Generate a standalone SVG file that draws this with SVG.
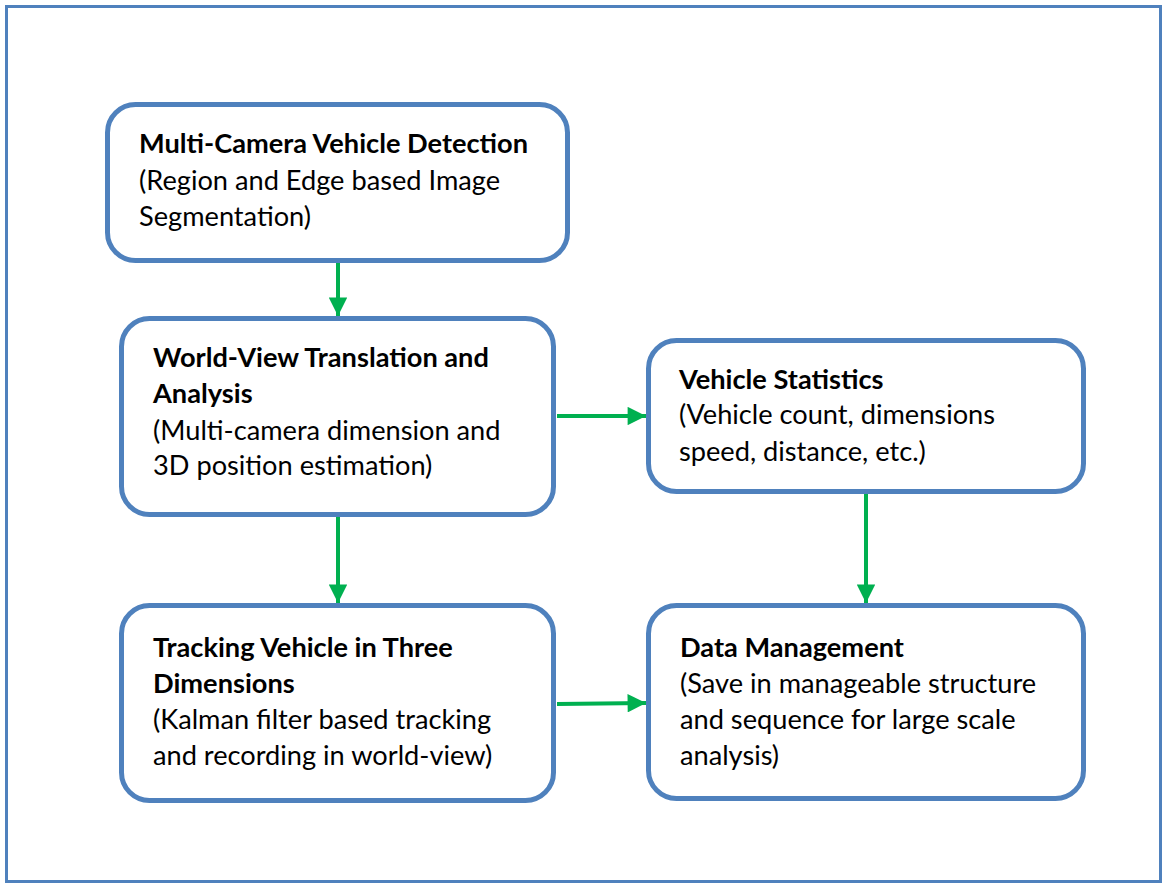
<svg xmlns="http://www.w3.org/2000/svg" width="1163" height="884" viewBox="0 0 1163 884">
<style>
.box{fill:#fff;stroke:#4F81BD;stroke-width:5}
.t{font-family:Lato,"Open Sans",sans-serif;font-size:27.2px;fill:#000}
.b{font-weight:bold}
.c{stroke:#00B050;stroke-width:4;fill:none}
</style>
<defs>
<marker id="ah" viewBox="0 0 10 10" refX="10" refY="5" markerWidth="4.8" markerHeight="4.6" orient="auto" markerUnits="strokeWidth">
<path d="M0,0 L10,5 L0,10 z" fill="#00B050"/>
</marker>
</defs>
<rect x="6.5" y="6.5" width="1154" height="875" fill="#fff" stroke="#4F81BD" stroke-width="3"/>
<g id="n1">
<rect class="box" x="107.5" y="104.5" width="460" height="156" rx="28"/>
<text class="t b" x="139" y="153">Multi-Camera Vehicle Detection</text>
<text class="t" x="139" y="190">(Region and Edge based Image</text>
<text class="t" x="139" y="226">Segmentation)</text>
</g>
<g id="n2">
<rect class="box" x="121.5" y="318.5" width="432" height="196" rx="28"/>
<text class="t b" x="153" y="367">World-View Translation and</text>
<text class="t b" x="153" y="403">Analysis</text>
<text class="t" x="153" y="440">(Multi-camera dimension and</text>
<text class="t" x="153" y="475">3D position estimation)</text>
</g>
<g id="n3">
<rect class="box" x="648.5" y="340.5" width="435" height="151" rx="28"/>
<text class="t b" x="679" y="389">Vehicle Statistics</text>
<text class="t" x="679" y="424">(Vehicle count, dimensions</text>
<text class="t" x="679" y="461">speed, distance, etc.)</text>
</g>
<g id="n4">
<rect class="box" x="121.5" y="605.5" width="432" height="195" rx="28"/>
<text class="t b" x="153" y="657">Tracking Vehicle in Three</text>
<text class="t b" x="153" y="693">Dimensions</text>
<text class="t" x="153" y="729">(Kalman filter based tracking</text>
<text class="t" x="153" y="765">and recording in world-view)</text>
</g>
<g id="n5">
<rect class="box" x="648.5" y="605.5" width="435" height="193" rx="28"/>
<text class="t b" x="680" y="657">Data Management</text>
<text class="t" x="680" y="693">(Save in manageable structure</text>
<text class="t" x="680" y="729">and sequence for large scale</text>
<text class="t" x="680" y="765">analysis)</text>
</g>
<g id="connectors">
<line class="c" x1="338" y1="263" x2="338" y2="316" marker-end="url(#ah)"/>
<line class="c" x1="557" y1="416" x2="646" y2="416" marker-end="url(#ah)"/>
<line class="c" x1="338" y1="517" x2="338" y2="603" marker-end="url(#ah)"/>
<line class="c" x1="866" y1="494" x2="866" y2="603" marker-end="url(#ah)"/>
<line class="c" x1="557" y1="704" x2="646" y2="703" marker-end="url(#ah)"/>
</g>
</svg>
